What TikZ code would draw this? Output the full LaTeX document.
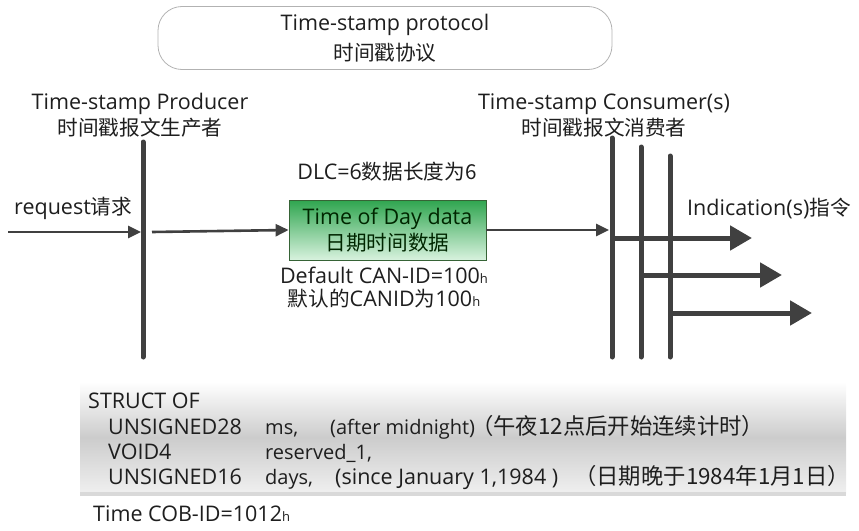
\documentclass[tikz,border=0pt]{standalone}
\usepackage{fontspec}
\setmainfont{Open Sans}
\newfontfamily\cjk{Noto Sans CJK SC}[Scale=0.96]
\newfontfamily\cjkb{Noto Sans CJK SC}[Scale=1.04]
\usetikzlibrary{arrows.meta}
\definecolor{ink}{HTML}{404040}
\definecolor{txt}{HTML}{1E1E1E}
\definecolor{gtop}{HTML}{2FA54F}
\definecolor{gbot}{HTML}{D8F2DE}
\begin{document}
\begin{tikzpicture}[x=1pt,y=-1pt,
  lbl/.style={font=\fontsize{21.5}{26}\selectfont, text=txt, align=center, inner sep=0pt},
  stxt/.style={font=\fontsize{21.5}{24}\selectfont, text=txt, anchor=base west, inner sep=0pt},
  stxtn/.style={stxt, font=\fontsize{20}{24}\selectfont},
  life/.style={draw=ink, line width=5pt, line cap=round},
  thin/.style={draw=ink, line width=2.6pt, -{Triangle[length=13pt,width=12pt]}},
  thick/.style={draw=ink, line width=5pt, -{Triangle[length=22pt,width=24pt]}},
]
\useasboundingbox (0,0) rectangle (859,530);

% top protocol box
\node[draw=gray!60, line width=0.8pt, rounded corners=24pt, minimum width=454pt, minimum height=63pt,
      lbl, font=\fontsize{21.5}{30}\selectfont] (proto) at (385,38)
  {Time-stamp protocol\\{\cjk 时间戳协议}};

% producer
\node[lbl] (prodlbl) at (140,115) {Time-stamp Producer\\{\cjk 时间戳报文生产者}};
\coordinate (ptop) at (143,142);
\coordinate (pbot) at (143,357);
\draw[life] (ptop) -- (pbot);

% consumers
\node[lbl] (conslbl) at (604,115) {Time-stamp Consumer(s)\\{\cjk 时间戳报文消费者}};
\coordinate (c1top) at (612,138);
\coordinate (c1bot) at (612,357);
\coordinate (c2top) at (641,147);
\coordinate (c2bot) at (641,357);
\coordinate (c3top) at (670,156);
\coordinate (c3bot) at (670,357);
\draw[life] (c1top) -- (c1bot);
\draw[life] (c2top) -- (c2bot);
\draw[life] (c3top) -- (c3bot);

% request
\node[lbl, anchor=west] (req) at (14,208) {request{\cjk 请求}};
\coordinate (reqin) at (8,232);
\coordinate (preq) at (141,232);
\coordinate (pout) at (152,232);
\draw[thin] (reqin) -- (preq);

% time of day box
\node[draw=gray!70!green!60!black, line width=0.8pt, minimum width=197pt, minimum height=60pt,
      top color=gtop, bottom color=gbot, lbl, text=black!85!green] (tod) at (387.5,230)
  {Time of Day data\\{\cjk 日期时间数据}};
\draw[thin] (pout) -- (tod.west);

\node[lbl] (dlc) at (387,172) {DLC=6{\cjk 数据长度为6}};
\node[lbl, font=\fontsize{21.5}{23}\selectfont] (canid) at (384,288)
  {Default CAN-ID=100{\fontsize{13}{13}\selectfont h}\\{\cjk 默认的}CANID{\cjk 为}100{\fontsize{13}{13}\selectfont h}};

\coordinate (c1in) at (609,230);
\draw[thin] (tod.east) -- (c1in);

% indications
\node[lbl, anchor=west] (ind) at (687,208) {Indication(s){\cjk 指令}};
\coordinate (i1s) at (612,238);
\coordinate (i1e) at (752,238);
\coordinate (i2s) at (641,275);
\coordinate (i2e) at (782,275);
\coordinate (i3s) at (670,313);
\coordinate (i3e) at (812,313);
\draw[thick] (i1s) -- (i1e);
\draw[thick] (i2s) -- (i2e);
\draw[thick] (i3s) -- (i3e);

% struct box
\shade[top color=white, bottom color=gray!12, middle color=gray!40, shading angle=0] (80,382) rectangle (846,493);
\fill[gray!30] (80,492) rectangle (846,495.5);
\node[stxt] (s0) at (88,408) {STRUCT OF};
\node[stxt] (s1a) at (108,434) {UNSIGNED28};
\node[stxtn] (s1b) at (265,434) {ms,};
\node[stxtn] (s1c) at (330,434) {(after midnight)};
\node[stxt] (s1d) at (471,434) {\cjkb （午夜12点后开始连续计时）};
\node[stxt] (s2a) at (108,459) {VOID4};
\node[stxtn] (s2b) at (265,459) {reserved\_1,};
\node[stxt] (s3a) at (108,484) {UNSIGNED16};
\node[stxtn] (s3b) at (265,484) {days,};
\node[stxt] (s3c) at (335,484) {(since January 1,1984 )};
\node[stxt] (s3d) at (574,484) {\cjkb （日期晚于1984年1月1日）};
\node[stxt] (cob) at (93,521) {Time COB-ID=1012{\fontsize{13}{13}\selectfont h}};
\end{tikzpicture}
\end{document}
